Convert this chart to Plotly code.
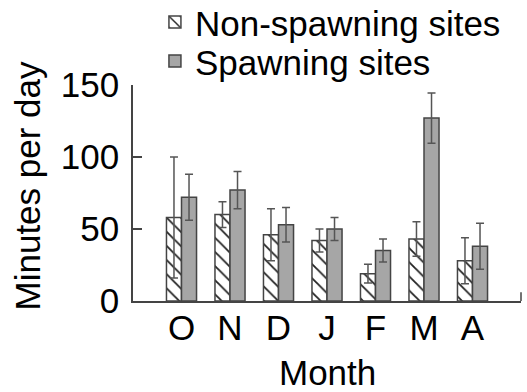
import plotly.graph_objects as go

months = ["O", "N", "D", "J", "F", "M", "A"]
non_spawning = [58, 60, 46, 42, 19, 43, 28]
non_spawning_err = [42, 9, 18, 8, 6.5, 12, 16]
spawning = [72, 77, 53, 50, 35, 127, 38]
spawning_err = [16, 13, 12, 8, 8, 17.5, 16]
y_ticks = [0, 50, 100, 150]

FONT = "Liberation Sans, Arial, sans-serif"
FS = 35

fig = go.Figure()
fig.add_trace(go.Bar(
    x=months, y=non_spawning, name="Non-spawning sites", showlegend=True,
    error_y=dict(type="data", array=non_spawning_err, color="#555555", thickness=1.5, width=4),
    marker=dict(color="white", line=dict(color="#444444", width=1.5),
                pattern=dict(shape="\\", size=10, solidity=0.18, fgcolor="#222222",
                             bgcolor="white", fgopacity=1)),
    legend="legend",
))
fig.add_trace(go.Bar(
    x=months, y=spawning, name="Spawning sites", showlegend=True,
    error_y=dict(type="data", array=spawning_err, color="#555555", thickness=1.5, width=4),
    marker=dict(color="#a6a6a6", line=dict(color="#444444", width=1.5)),
    legend="legend2",
))

fig.update_layout(
    width=527, height=392,
    margin=dict(l=133, r=6, t=85, b=91, autoexpand=False),
    paper_bgcolor="white", plot_bgcolor="white",
    font=dict(family=FONT, size=FS, color="black"),
    showlegend=True,
    barmode="group", bargap=0.38, bargroupgap=0,
    legend=dict(xref="container", yref="container", x=0.294, y=0.943,
                xanchor="left", yanchor="middle",
                font=dict(size=FS), bgcolor="rgba(0,0,0,0)"),
    legend2=dict(xref="container", yref="container", x=0.294, y=0.844,
                 xanchor="left", yanchor="middle",
                 font=dict(size=FS), bgcolor="rgba(0,0,0,0)"),
    xaxis=dict(
        type="category", range=[-1, 7], showline=True, linecolor="#444444", linewidth=1.5,
        ticks="", showgrid=False, zeroline=False, ticklabelstandoff=-5,
    ),
    yaxis=dict(
        range=[0, 150], tickvals=y_ticks, showline=True, linecolor="#444444", linewidth=1.5,
        ticks="inside", ticklen=9, tickwidth=1.5, tickcolor="#444444",
        showgrid=False, zeroline=False, ticklabelstandoff=5,
    ),
    annotations=[
        dict(text="Minutes per day", textangle=-90, showarrow=False,
             xref="paper", yref="paper", x=-0.272, y=0.537,
             xanchor="center", yanchor="middle", font=dict(size=FS)),
        dict(text="Month", showarrow=False,
             xref="paper", yref="paper", x=0.501, y=-0.333,
             xanchor="center", yanchor="middle", font=dict(size=FS)),
    ],
    shapes=[dict(type="line", xref="paper", yref="paper", x0=1, x1=1, y0=0, y1=0.04,
                 line=dict(color="#444444", width=1.5))],
)

fig.write_html(
    "out.html",
    config={"displayModeBar": False},
    post_script="document.body.style.margin='0';document.body.style.overflow='hidden';",
)
